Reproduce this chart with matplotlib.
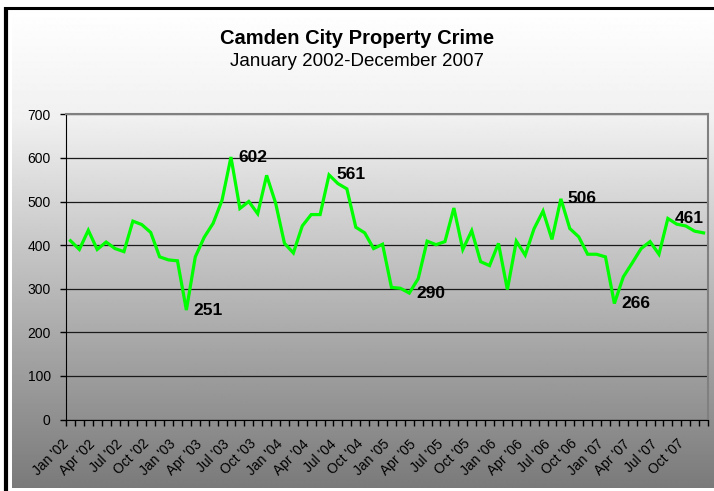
import matplotlib
matplotlib.use("Agg")
import matplotlib.pyplot as plt
import matplotlib.transforms as mtransforms
import numpy as np

plt.rcParams['font.family'] = ['Liberation Sans', 'DejaVu Sans']

# monthly property crime counts, Jan 2002 - Dec 2007
crimes_2002 = [410, 390, 434, 390, 407, 392, 385, 455, 447, 429, 373, 366]
crimes_2003 = [364, 251, 373, 418, 450, 503, 602, 484, 500, 472, 560, 497]
crimes_2004 = [404, 382, 444, 470, 470, 561, 541, 529, 441, 428, 392, 402]
crimes_2005 = [303, 301, 290, 323, 409, 401, 408, 485, 390, 433, 362, 353]
crimes_2006 = [404, 298, 409, 377, 438, 478, 413, 506, 438, 419, 379, 379]
crimes_2007 = [373, 266, 327, 359, 392, 408, 379, 461, 448, 444, 432, 428]
crimes = crimes_2002 + crimes_2003 + crimes_2004 + crimes_2005 + crimes_2006 + crimes_2007

months = ["Jan", "Apr", "Jul", "Oct"]
years = ["02", "03", "04", "05", "06", "07"]
tick_labels = [f"{m} '{y}" for y in years for m in months]

# points that carry a value label
labelled = [13, 18, 29, 38, 55, 61, 67]

W, H = 714, 491
fig = plt.figure(figsize=(W / 100, H / 100), dpi=100)

# background gradient and frame, drawn in pixel coords
bg = fig.add_axes([0, 0, 1, 1], zorder=-1)
bg.set_xlim(0, W)
bg.set_ylim(H, 0)
bg.axis("off")
rows = np.arange(10, 489)
shade = np.interp(rows, [10, 120, 340, 488], [255, 240, 168, 122]) / 255.0
grad = np.repeat(shade[:, None], 2, axis=1)
bg.imshow(grad, cmap="gray", vmin=0, vmax=1, aspect="auto",
          extent=(12, W, 488, 10), interpolation="bilinear")
bg.plot([4, W], [8, 8], color="black", lw=2.2, solid_capstyle="butt")
bg.plot([6, 6], [7, H], color="black", lw=3.0, solid_capstyle="butt")

fig.text(0.5, 1 - 44 / H, "Camden City Property Crime", ha="center", va="baseline",
         fontsize=14.5, fontweight="bold")
fig.text(0.5, 1 - 66 / H, "January 2002-December 2007", ha="center", va="baseline",
         fontsize=13.5)

left, right = 66 / W, 708 / W
top, bottom = 1 - 114.3 / H, 1 - 419.5 / H
ax = fig.add_axes([left, bottom, right - left, top - bottom])
ax.patch.set_alpha(0)

x = np.arange(len(crimes))
ax.plot(x, crimes, color="#00FF00", lw=2.3, solid_joinstyle="miter", zorder=3)

for i in labelled:
    ax.annotate(str(crimes[i]), (x[i], crimes[i]), xytext=(5, 0), textcoords="offset points",
                ha="left", va="center", fontsize=12.5, fontweight="bold", zorder=4)

ax.set_xlim(-0.5, len(crimes) - 0.5)
ax.set_ylim(0, 700)
ax.set_yticks(range(0, 701, 100))
ax.yaxis.grid(True, color="#1a1a1a", lw=0.9)
ax.set_axisbelow(True)

ax.set_xticks(np.arange(0, len(crimes), 3))
ax.set_xticklabels(tick_labels, rotation=45, ha="right", va="center",
                   rotation_mode="anchor", fontsize=10)
ax.set_xticks(np.arange(-0.5, len(crimes), 1), minor=True)
ax.tick_params(axis="x", which="major", length=0, pad=16)
ax.tick_params(axis="x", which="minor", length=4, width=1, direction="out", color="black")
ax.tick_params(axis="y", length=4, width=1, direction="out", pad=7, labelsize=10)

shift = mtransforms.ScaledTranslation(-4 / 100, 0, fig.dpi_scale_trans)
for lab in ax.get_xticklabels():
    lab.set_transform(lab.get_transform() + shift)

for side in ["top", "right"]:
    ax.spines[side].set_color("#808080")
    ax.spines[side].set_linewidth(1.5)
ax.spines["left"].set_color("black")
ax.spines["bottom"].set_color("black")

fig.savefig("out.png", dpi=100)
